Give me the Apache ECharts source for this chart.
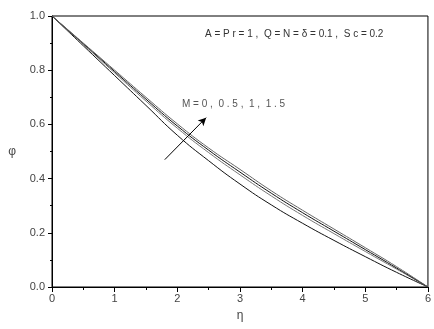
<!DOCTYPE html>
<html lang="en">
<head>
    <meta charset="UTF-8">
    <title>phi vs eta</title>
    <script src="https://cdn.jsdelivr.net/npm/echarts@6/dist/echarts.min.js"></script>
</head>
<body style="margin:0">
<div id="chart" style="width:434px;height:329px;"></div>
<script>
    // eta points and concentration profiles for M = 0, 0.5, 1, 1.5
    var eta = [0, 0.5, 1, 1.5, 2, 2.5, 3, 3.5, 4, 4.5, 5, 5.5, 6];
    var phiM0 = [1, 0.89, 0.780, 0.670, 0.560, 0.466, 0.380, 0.303, 0.235, 0.172, 0.112, 0.054, 0];
    var phiM05 = [1, 0.895, 0.790, 0.686, 0.586, 0.496, 0.414, 0.336, 0.264, 0.197, 0.131, 0.066, 0];
    var phiM1 = [1, 0.898, 0.795, 0.693, 0.594, 0.505, 0.424, 0.346, 0.274, 0.206, 0.138, 0.070, 0];
    var phiM15 = [1, 0.90, 0.80, 0.70, 0.602, 0.513, 0.434, 0.355, 0.283, 0.214, 0.145, 0.075, 0];
    var xTicks = [0, 1, 2, 3, 4, 5, 6];
    var yTicks = [0.0, 0.2, 0.4, 0.6, 0.8, 1.0];

    function pairs(ys) {
        var out = [];
        for (var i = 0; i < eta.length; i++) out.push([eta[i], ys[i]]);
        return out;
    }

    function curve(ys, color) {
        return {
            type: 'line',
            data: pairs(ys),
            smooth: true,
            symbol: 'none',
            lineStyle: {color: color, width: 1}
        };
    }

    var labelFont = {color: '#444', fontFamily: 'Liberation Sans', fontSize: 11};

    var chart = echarts.init(document.getElementById('chart'));
    var series = [
        curve(phiM0, '#111'),
        curve(phiM05, '#777'),
        curve(phiM1, '#111'),
        curve(phiM15, '#666')
    ];
    // arrow showing direction of increasing M
    series[0].markLine = {
        silent: true,
        symbol: ['none', 'arrow'],
        symbolSize: [6, 8],
        lineStyle: {color: '#000', width: 1, type: 'solid'},
        label: {show: false},
        data: [[{coord: [1.8, 0.47]}, {coord: [2.46, 0.625]}]]
    };

    chart.setOption({
        animation: false,
        grid: {left: 52, right: 1.5, top: 16, bottom: 42, show: true, borderColor: '#000', borderWidth: 1},
        xAxis: {
            type: 'value', min: 0, max: 6, interval: 1,
            name: 'η', nameLocation: 'middle', nameGap: 23,
            nameTextStyle: {color: '#444', fontFamily: 'Liberation Sans', fontSize: 12},
            axisLine: {lineStyle: {color: '#000'}},
            axisTick: {length: 5, lineStyle: {color: '#000'}},
            minorTick: {show: true, splitNumber: 2, length: 3, lineStyle: {color: '#000'}},
            axisLabel: Object.assign({margin: 6, formatter: function (v) { return xTicks.indexOf(v) >= 0 ? String(v) : ''; }}, labelFont),
            splitLine: {show: false}
        },
        yAxis: {
            type: 'value', min: 0, max: 1, interval: 0.2,
            name: 'φ', nameLocation: 'middle', nameGap: 36, nameRotate: 0,
            nameTextStyle: {color: '#444', fontFamily: 'Liberation Sans', fontSize: 12},
            axisLine: {lineStyle: {color: '#000'}},
            axisTick: {length: 4, lineStyle: {color: '#000'}},
            minorTick: {show: true, splitNumber: 2, length: 2, lineStyle: {color: '#000'}},
            axisLabel: Object.assign({margin: 7, formatter: function (v) {
                for (var i = 0; i < yTicks.length; i++) if (Math.abs(yTicks[i] - v) < 1e-6) return yTicks[i].toFixed(1);
                return '';
            }}, labelFont),
            splitLine: {show: false}
        },
        graphic: [
            {type: 'text', left: 205, top: 29, style: {text: 'A = P r = 1 ,  Q = N = δ = 0.1 ,  S c = 0.2', fill: '#333', font: '10px "Liberation Sans"'}},
            {type: 'text', left: 182, top: 99, style: {text: 'M = 0 ,  0 . 5 ,  1 ,  1 . 5', fill: '#555', font: '10px "Liberation Sans"'}}
        ],
        series: series
    });
</script>
</body>
</html>
